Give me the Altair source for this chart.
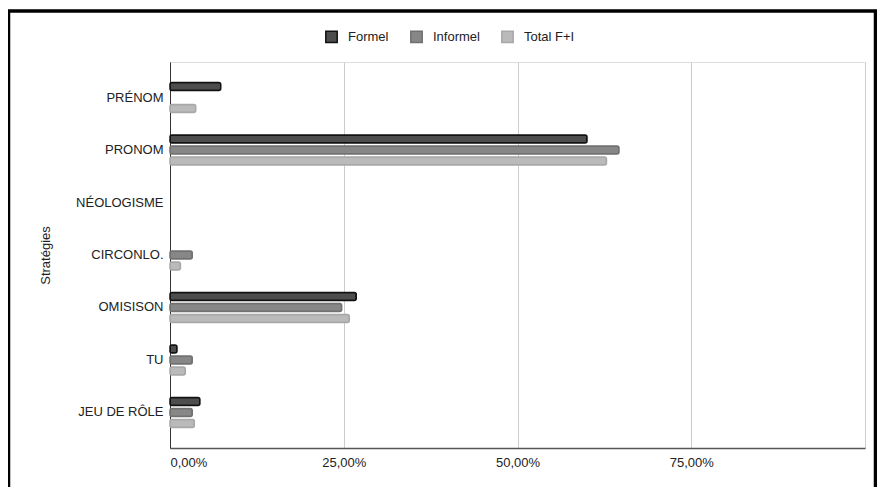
import altair as alt
import pandas as pd

categories = ["PRÉNOM", "PRONOM", "NÉOLOGISME", "CIRCONLO.", "OMISISON", "TU", "JEU DE RÔLE"]
series = ["Formel", "Informel", "Total F+I"]
formel = [7.3, 60.0, 0.0, 0.0, 26.8, 1.0, 4.3]
informel = [0.0, 64.6, 0.0, 3.2, 24.7, 3.2, 3.2]
total = [3.7, 62.8, 0.0, 1.5, 25.8, 2.2, 3.5]
x_ticks = [0, 25, 50, 75, 100]

fills = ["#4d4d4d", "#878787", "#bababa"]
strokes = ["#111111", "#707070", "#a8a8a8"]

rows = []
for name, vals in zip(series, [formel, informel, total]):
    for c, v in zip(categories, vals):
        rows.append({"Stratégie": c, "Série": name, "Valeur": v})
df = pd.DataFrame(rows)

FONT = "Liberation Sans"

bars = alt.Chart(df).transform_filter("datum.Valeur > 0").mark_bar(
    cornerRadius=2, strokeWidth=1.5
).encode(
    y=alt.Y("Stratégie:N", sort=categories,
            scale=alt.Scale(domain=categories, paddingInner=0.371, paddingOuter=0.362),
            axis=alt.Axis(title="Stratégies", ticks=False, labelPadding=7,
                          domainColor="#333333", labelColor="#222222",
                          labelFontSize=13, labelFont=FONT,
                          titleFont=FONT, titleFontSize=13, titleFontWeight="normal",
                          titleColor="#222222", titleX=-125, titleY=193,
                          titleAlign="center", titleBaseline="middle", titleAngle=-90)),
    yOffset=alt.YOffset("Série:N", scale=alt.Scale(domain=series, paddingInner=0.27, paddingOuter=0.135)),
    x=alt.X("Valeur:Q", scale=alt.Scale(domain=[0, 100], nice=False),
            axis=alt.Axis(title=None, values=x_ticks, ticks=False, grid=True,
                          gridColor="#cccccc", domainColor="#555555", domainWidth=1.5,
                          labelFont=FONT, labelFontSize=13, labelColor="#222222",
                          labelPadding=8,
                          labelExpr="datum.value == 100 ? '' : replace(format(datum.value, '.2f'), '.', ',') + '%'")),
    fill=alt.Fill("Série:N", scale=alt.Scale(domain=series, range=fills),
                  legend=alt.Legend(title=None, orient="none", direction="horizontal",
                                    legendX=155, legendY=-32, symbolType="square",
                                    symbolSize=130, labelFont=FONT, labelFontSize=13,
                                    labelColor="#222222", columnPadding=18, labelOffset=10)),
    stroke=alt.Stroke("Série:N", scale=alt.Scale(domain=series, range=strokes),
                      legend=alt.Legend(title=None, orient="none", direction="horizontal",
                                        legendX=155, legendY=-32, symbolType="square",
                                        symbolSize=130, labelFont=FONT, labelFontSize=13,
                                        labelColor="#222222", columnPadding=18, labelOffset=10)),
)

frame = alt.Chart(pd.DataFrame({"k": [0]})).mark_rect(
    fill=None, stroke="#000000", strokeWidth=3.5
).encode(
    x=alt.value(-161.5), x2=alt.value(705.5), y=alt.value(-51), y2=alt.value(440)
)

chart = alt.layer(bars, frame).properties(
    width=695, height=386,
    autosize=alt.AutoSizeParams(type="none"),
    padding={"left": 162, "top": 54, "right": 12, "bottom": 39},
).configure_view(stroke=None).configure(background="white")

chart.save("out.html", embed_options={"renderer": "svg", "actions": False})
